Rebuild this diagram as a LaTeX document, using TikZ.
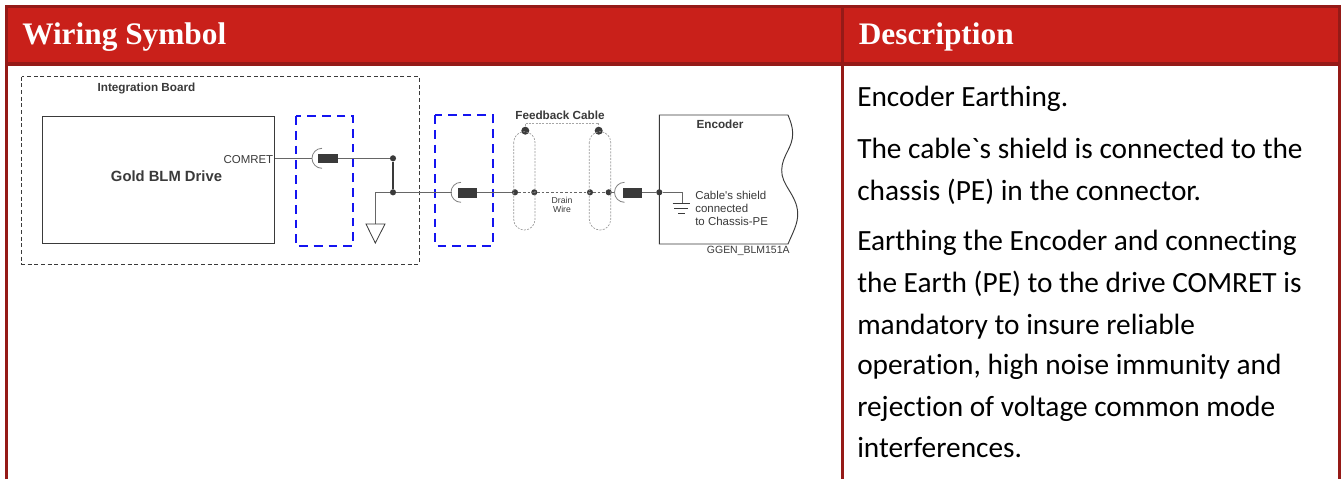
\documentclass[tikz,border=0pt]{standalone}
\usepackage{fontspec}
\setmainfont[Ligatures={NoCommon,TeXOff}]{Carlito}
\newfontfamily\hdfont{Liberation Serif}
\newfontfamily\dgfont{Liberation Sans}
\definecolor{hdred}{HTML}{C9201A}
\definecolor{hdline}{HTML}{951A17}
\definecolor{ink}{HTML}{3A3A3A}
\definecolor{wire}{HTML}{666666}
\definecolor{shieldblue}{HTML}{1414F0}
\tikzset{
 x=0.75pt,y=-0.75pt,
 headtext/.style={anchor=base west,inner sep=0,text=white,font=\hdfont\bfseries\fontsize{23.5}{26}\selectfont},
 bodytext/.style={anchor=base west,inner sep=0,text=black,font=\fontsize{22}{26}\selectfont},
 labelb/.style={inner sep=0,text=ink,font=\dgfont\bfseries\fontsize{8.8}{10}\selectfont},
 labeln/.style={inner sep=0,text=ink,font=\dgfont\fontsize{8.6}{10}\selectfont},
 labels/.style={inner sep=0,text=ink,font=\dgfont\fontsize{6.5}{7}\selectfont},
 boardline/.style={draw=ink,line width=0.6pt,dash pattern=on 3pt off 2pt},
 shieldbox/.style={draw=shieldblue,line width=1.7pt,dash pattern=on 6.6pt off 4.5pt},
 capsule/.style={draw=gray!80,line width=0.5pt,dash pattern=on 1.5pt off 1pt,rounded corners=7.9pt},
 wireline/.style={draw=wire,line width=1pt},
 dot/.style={circle,fill=ink,inner sep=0,minimum size=4.6pt},
 bigdot/.style={circle,fill=ink,inner sep=0,minimum size=6pt},
 ferrite/.style={fill=ink,draw=none},
 shieldarc/.style={draw=gray,line width=0.6pt},
 tablerule/.style={draw=hdline,line width=2.3pt},
}
\begin{document}
\begin{tikzpicture}
\useasboundingbox (0,0) rectangle (1344,479);
\fill[white] (0,0) rectangle (1344,479);
% table
\fill[hdred] (6,6) rectangle (1339,64);
\draw[tablerule] (6.4,479) -- (6.4,6.4) -- (1339.5,6.4) -- (1339.5,479);
\draw[tablerule] (6,64) -- (1339.5,64);
\draw[tablerule] (842.5,6) -- (842.5,479);
\node[headtext] (h1) at (22,44.2) {Wiring\ Symbol};
\node[headtext] (h2) at (858.5,44.2) {Description};
% body text
\node[bodytext] (t1) at (857,106) {Encoder Earthing.};
\node[bodytext] (t2) at (857,158) {The cable`s shield is connected to the};
\node[bodytext] (t3) at (857,200) {chassis (PE) in the connector.};
\node[bodytext] (t4) at (857,250) {Earthing the Encoder and connecting};
\node[bodytext] (t5) at (857,292) {the Earth (PE) to the drive COMRET is};
\node[bodytext] (t6) at (857,334) {mandatory to insure reliable};
\node[bodytext] (t7) at (857,374) {operation, high noise immunity and};
\node[bodytext] (t8) at (857,416) {rejection of voltage common mode};
\node[bodytext] (t9) at (857,457) {interferences.};
% diagram
\draw[boardline] (21.7,76.7) rectangle (419,264);
\node[labelb] (ib) at (146.5,88) {Integration Board};
\draw[ink,line width=0.7pt] (42.7,116) rectangle (274.7,243);
\node[labelb,font=\dgfont\bfseries\fontsize{11.1}{13}\selectfont] (gold) at (166.5,176) {Gold BLM Drive};
\node[labeln,anchor=east] (comret) at (273.5,160) {COMRET};
\draw[shieldbox] (295.7,116) rectangle (353.3,246);
\draw[shieldbox] (435,115) rectangle (492.7,245.7);
% coordinates
\coordinate (drvport) at (274.7,158.3);
\coordinate (gndtop) at (375.3,192.3);
\coordinate (gtri) at (375.3,224);
\coordinate (encw) at (682.3,192.3);
\coordinate (encg) at (682.3,203.3);
\node[dot] (d1) at (393,158.3) {};
\node[dot] (d2) at (393,192.3) {};
\node[dot] (d3) at (515,192.3) {};
\node[dot] (d4) at (534.3,192.3) {};
\node[dot] (d5) at (590,192.3) {};
\node[dot] (d6) at (608.7,192.3) {};
\node[dot] (d7) at (659.3,192.3) {};
\node[bigdot] (b1) at (525.3,130.7) {};
\node[bigdot] (b2) at (598.7,130.7) {};
% wires
\draw[wireline] (drvport) -- (d1);
\draw[wireline,draw=ink] (d1) -- (d2);
\draw[wire,line width=0.7pt] (gtri) -- (gndtop) -- (d2) -- (d3);
\draw[wire,line width=0.6pt,dash pattern=on 2pt off 1.5pt] (d3) -- (d6);
\draw[wireline] (d6) -- (d7) -- (encw) -- (encg);
\draw[ink,line width=0.6pt] (366,224) -- (385,224) -- (375.3,243) -- cycle;
\draw[gray!70,line width=0.5pt,dash pattern=on 1.5pt off 1pt] (b1) -- (525.3,123.3) -- (598.7,123.3) -- (b2);
% ferrites
\fill[white] (312.4,150) rectangle (318,167);
\draw[shieldarc] (322,148.3) arc[start angle=-90,end angle=-270,radius=10];
\fill[ferrite] (318,154.3) rectangle (337.7,163);
\fill[white] (452,184) rectangle (458,201);
\draw[shieldarc] (461,182.3) arc[start angle=-90,end angle=-270,radius=10];
\fill[ferrite] (458,188) rectangle (476.7,197.7);
\fill[white] (615.4,184) rectangle (623.3,201);
\draw[shieldarc] (624.5,182.3) arc[start angle=-90,end angle=-270,radius=10];
\fill[ferrite] (623.3,188) rectangle (642.3,197.7);
% capsules
\draw[capsule] (513.7,131.7) rectangle (535,230);
\draw[capsule] (589.3,131.7) rectangle (610.7,230);
\node[labelb] (fc) at (560,115.7) {Feedback Cable};
\node[labels] (dw1) at (562,200) {Drain};
\node[labels] (dw2) at (562,209) {Wire};
% encoder
\draw[ink,line width=0.7pt] (788,115) -- (659.3,115) -- (659.3,244) -- (788,244)
 .. controls (793,232) and (798,224) .. (797.7,213)
 .. controls (797,195) and (781,185) .. (781.7,170)
 .. controls (782,155) and (793,148) .. (792.7,133)
 .. controls (792.5,126) and (790,120) .. (788,115);
\node[labelb] (enc) at (720,124.3) {Encoder};
\draw[ink,line width=0.6pt] (672.7,203.3) -- (690,203.3) (674,208.3) -- (688,208.3) (678,213.3) -- (685,213.3);
\node[labeln,anchor=west] (c1) at (695,195) {Cable's shield};
\node[labeln,anchor=west] (c2) at (695,208.3) {connected};
\node[labeln,anchor=west] (c3) at (695,221) {to Chassis-PE};
\node[labeln,anchor=west,font=\dgfont\fontsize{7.85}{9}\selectfont] (gg) at (706.7,251) {GGEN\_BLM151A};
\end{tikzpicture}
\end{document}
